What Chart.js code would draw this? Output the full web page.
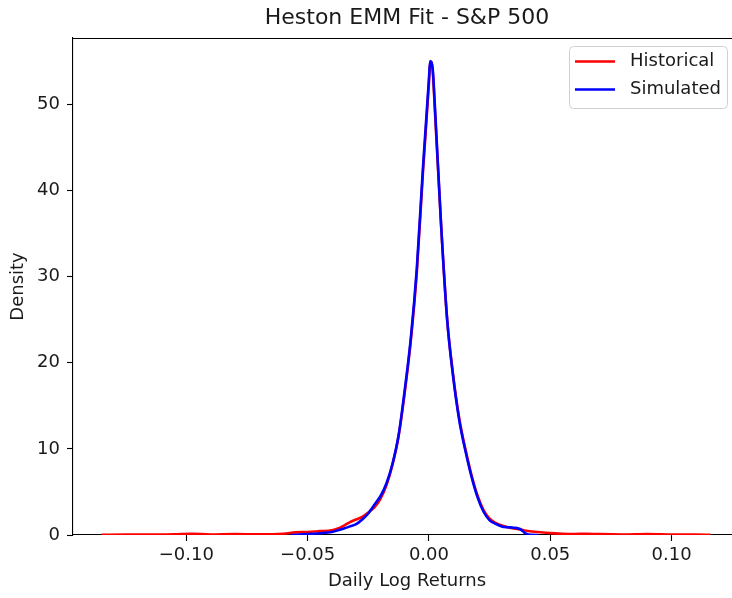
<!DOCTYPE html>
<html>
<head>
<meta charset="utf-8">
<script src="https://cdn.jsdelivr.net/npm/chart.js@4.4.1/dist/chart.umd.min.js"></script>
<style>
  html, body { margin: 0; padding: 0; background: #fff; overflow: hidden; }
  #wrap { width: 742px; height: 598px; }
</style>
</head>
<body>
<div id="wrap"><canvas id="c" width="742" height="598"></canvas></div>
<script>
// Kernel density of daily log returns: historical vs. Heston simulated
const histX = [-0.135, -0.125, -0.115, -0.105, -0.098, -0.09, -0.08, -0.07, -0.06, -0.055, -0.05, -0.045,
  -0.04, -0.0375, -0.035, -0.0325, -0.03, -0.0275, -0.025, -0.0225, -0.02, -0.0175, -0.015, -0.0125,
  -0.01, -0.0075, -0.005, -0.0025, 0, 0.0005, 0.0015, 0.0025, 0.005, 0.0075, 0.01, 0.0125, 0.015,
  0.0175, 0.02, 0.0225, 0.025, 0.0275, 0.03, 0.0325, 0.035, 0.0375, 0.04, 0.045, 0.05, 0.055, 0.06,
  0.065, 0.07, 0.08, 0.09, 0.10, 0.11, 0.116];
const histY = [0.02, 0.04, 0.05, 0.08, 0.15, 0.06, 0.1, 0.08, 0.15, 0.3, 0.35, 0.45,
  0.55, 0.75, 1.1, 1.5, 1.8, 2.1, 2.6, 3.2, 4.2, 5.8, 8.2, 11.5,
  16.5, 22.5, 30.5, 42, 52.5, 55, 54, 49, 36, 25, 18.5, 13.5, 10,
  7, 4.6, 2.9, 1.9, 1.4, 1.1, 0.9, 0.75, 0.65, 0.5, 0.35, 0.22, 0.15, 0.12,
  0.15, 0.1, 0.06, 0.12, 0.06, 0.04, 0.02];

const simX = [-0.057, -0.05, -0.045, -0.04, -0.0375, -0.035, -0.0325, -0.03, -0.0275, -0.025, -0.0225,
  -0.021, -0.02, -0.0175, -0.015, -0.0125, -0.01, -0.0075, -0.005, -0.0025, 0, 0.0005, 0.0015, 0.0025,
  0.005, 0.0075, 0.01, 0.0125, 0.015, 0.0175, 0.02, 0.0225, 0.025, 0.0275, 0.03, 0.0325, 0.035,
  0.0375, 0.04, 0.042, 0.045];
const simY = [0.0, 0.1, 0.2, 0.35, 0.55, 0.75, 1.0, 1.25, 1.8, 2.5, 3.5,
  4.1, 4.5, 6.0, 8.3, 11.6, 16.8, 22.8, 31, 42.5, 53, 55, 54.2, 49.5,
  36, 25, 18.3, 13.3, 9.8, 6.8, 4.4, 2.7, 1.7, 1.3, 1.0, 0.9, 0.85,
  0.7, 0.15, 0.02, 0.0];

const xTicks = [-0.10, -0.05, 0.00, 0.05, 0.10];
const yTicks = [0, 10, 20, 30, 40, 50];

const seriesNames = ['Historical', 'Simulated'];
const seriesColors = ['#ff0000', '#0000ff'];
const chartTitle = 'Heston EMM Fit - S&P 500';
const xLabel = 'Daily Log Returns';
const yLabel = 'Density';

const FONT = '"DejaVu Sans", sans-serif';
const LABEL_SIZE = 18;
const TEXT_COLOR = '#1a1a1a';

function pairs(xs, ys) { return xs.map((x, i) => ({ x: x, y: ys[i] })); }

function fmtX(v) {
  const s = Math.abs(v).toFixed(2);
  return v < -1e-9 ? '\u2212' + s : s;
}

// title, frame, axis labels and legend drawn on top of the plot
const decorations = {
  id: 'decorations',
  afterDraw(chart) {
    const ctx = chart.ctx;
    const a = chart.chartArea;
    ctx.save();
    ctx.strokeStyle = '#000';
    ctx.lineWidth = 1.1;
    ctx.beginPath();
    ctx.moveTo(a.left, a.top + 0.5);
    ctx.lineTo(a.right, a.top + 0.5);
    ctx.moveTo(a.right - 0.5, a.top);
    ctx.lineTo(a.right - 0.5, a.bottom);
    ctx.stroke();

    ctx.fillStyle = TEXT_COLOR;
    ctx.textAlign = 'center';
    ctx.textBaseline = 'middle';
    ctx.font = '22px ' + FONT;
    ctx.fillText(chartTitle, (a.left + a.right) / 2, 18);

    ctx.font = LABEL_SIZE + 'px ' + FONT;
    ctx.fillText(xLabel, (a.left + a.right) / 2, 581);
    ctx.save();
    ctx.translate(18, (a.top + a.bottom) / 2);
    ctx.rotate(-Math.PI / 2);
    ctx.fillText(yLabel, 0, 0);
    ctx.restore();

    // legend box
    const bx = 569.5, by = 46.5, bw = 158, bh = 62, r = 4;
    ctx.beginPath();
    ctx.moveTo(bx + r, by);
    ctx.lineTo(bx + bw - r, by);
    ctx.arcTo(bx + bw, by, bx + bw, by + r, r);
    ctx.lineTo(bx + bw, by + bh - r);
    ctx.arcTo(bx + bw, by + bh, bx + bw - r, by + bh, r);
    ctx.lineTo(bx + r, by + bh);
    ctx.arcTo(bx, by + bh, bx, by + bh - r, r);
    ctx.lineTo(bx, by + r);
    ctx.arcTo(bx, by, bx + r, by, r);
    ctx.closePath();
    ctx.fillStyle = 'rgba(255,255,255,0.8)';
    ctx.fill();
    ctx.strokeStyle = '#d0d0d0';
    ctx.lineWidth = 1;
    ctx.stroke();

    ctx.textAlign = 'left';
    ctx.font = LABEL_SIZE + 'px ' + FONT;
    seriesNames.forEach((name, i) => {
      const y = 61.5 + i * 28;
      ctx.strokeStyle = seriesColors[i];
      ctx.lineWidth = 2.6;
      ctx.beginPath();
      ctx.moveTo(575, y);
      ctx.lineTo(615, y);
      ctx.stroke();
      ctx.fillStyle = TEXT_COLOR;
      ctx.fillText(name, 630, y);
    });
    ctx.restore();
  }
};

new Chart(document.getElementById('c'), {
  type: 'line',
  data: {
    datasets: [
      { label: seriesNames[0], data: pairs(histX, histY), borderColor: seriesColors[0],
        borderWidth: 2.6, pointRadius: 0, fill: false, cubicInterpolationMode: 'monotone', order: 2 },
      { label: seriesNames[1], data: pairs(simX, simY), borderColor: seriesColors[1],
        borderWidth: 2.6, pointRadius: 0, fill: false, cubicInterpolationMode: 'monotone', order: 1 }
    ]
  },
  options: {
    responsive: false,
    animation: false,
    events: [],
    layout: { padding: { top: 38, left: 0, right: 1, bottom: 0 } },
    plugins: { legend: { display: false }, title: { display: false }, tooltip: { enabled: false } },
    scales: {
      x: {
        type: 'linear',
        min: -0.1467,
        max: 0.1286,
        afterBuildTicks(s) { s.ticks = xTicks.map(v => ({ value: v })); },
        afterFit(s) { s.height = 63; },
        grid: { display: true, drawOnChartArea: false, drawTicks: true, tickLength: 6, color: '#000', tickWidth: 1.1 },
        border: { display: true, color: '#000', width: 1.1 },
        ticks: { color: TEXT_COLOR, padding: 4, font: { family: FONT, size: LABEL_SIZE }, maxRotation: 0,
          callback: (v) => fmtX(v) }
      },
      y: {
        type: 'linear',
        min: 0,
        max: 57.7,
        afterBuildTicks(s) { s.ticks = yTicks.map(v => ({ value: v })); },
        afterFit(s) { s.width = 73; },
        grid: { display: true, drawOnChartArea: false, drawTicks: true, tickLength: 6, color: '#000', tickWidth: 1.1 },
        border: { display: true, color: '#000', width: 1.1 },
        ticks: { color: TEXT_COLOR, padding: 7, font: { family: FONT, size: LABEL_SIZE },
          callback: (v) => String(v) }
      }
    }
  },
  plugins: [decorations]
});
</script>
</body>
</html>
